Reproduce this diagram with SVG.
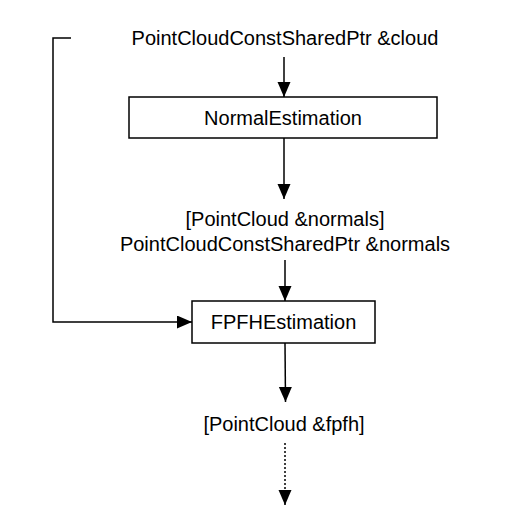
<svg xmlns="http://www.w3.org/2000/svg" width="520" height="529" viewBox="0 0 520 529">
<style>
text { font-family: "Liberation Sans", Arial, sans-serif; font-size: 20px; fill: #000; text-anchor: middle; }
.box { fill: #fff; stroke: #000; stroke-width: 1.5; }
.edge { fill: none; stroke: #000; stroke-width: 1.5; }
.dot { stroke-dasharray: 2 2; }
</style>
<defs>
<marker id="arr" markerUnits="userSpaceOnUse" markerWidth="16" markerHeight="14" refX="15" refY="6.5" orient="auto">
<path d="M0,0 L15,6.5 L0,13 Z" fill="#000"/>
</marker>
</defs>
<g id="connectors">
<path class="edge" d="M284,57 L284,97" marker-end="url(#arr)"/>
<path class="edge" d="M284,138 L284,199" marker-end="url(#arr)"/>
<path class="edge" d="M285,260 L285,301" marker-end="url(#arr)"/>
<path class="edge" d="M71,38 L53,38 L53,322 L192,322" marker-end="url(#arr)"/>
<path class="edge" d="M285,343 L285.5,402" marker-end="url(#arr)"/>
<path class="edge dot" d="M285,443 L285,505" marker-end="url(#arr)"/>
</g>
<g id="cloud"><text x="285" y="45">PointCloudConstSharedPtr &amp;cloud</text></g>
<g id="normal_estimation">
<rect class="box" x="129" y="97" width="308" height="41"/>
<text x="283" y="124.5">NormalEstimation</text>
</g>
<g id="normals">
<text x="285" y="226">[PointCloud &amp;normals]</text>
<text x="285" y="251">PointCloudConstSharedPtr &amp;normals</text>
</g>
<g id="fpfh_estimation">
<rect class="box" x="192" y="301" width="183" height="42"/>
<text x="283.5" y="329">FPFHEstimation</text>
</g>
<g id="fpfh"><text x="284" y="431">[PointCloud &amp;fpfh]</text></g>
</svg>
